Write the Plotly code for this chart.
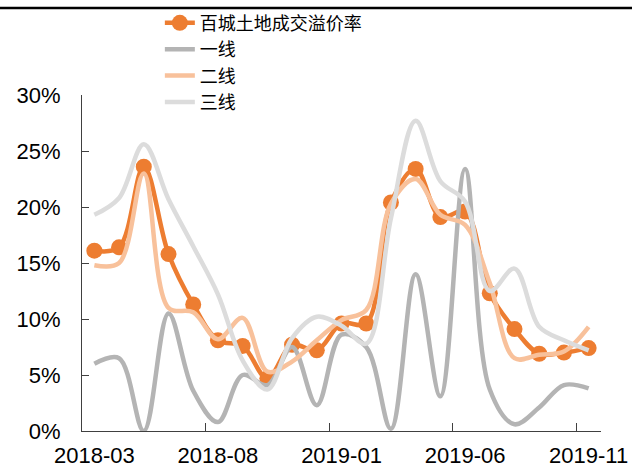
import plotly.graph_objects as go

# Monthly land-transaction premium rates (%), 2018-03 .. 2019-11
months = ["2018-03", "2018-04", "2018-05", "2018-06", "2018-07", "2018-08", "2018-09",
          "2018-10", "2018-11", "2018-12", "2019-01", "2019-02", "2019-03", "2019-04",
          "2019-05", "2019-06", "2019-07", "2019-08", "2019-09", "2019-10", "2019-11"]

hundred_city = [16.1, 16.4, 23.6, 15.8, 11.3, 8.1, 7.6, 4.7, 7.7, 7.2, 9.6,
                9.6, 20.4, 23.4, 19.1, 19.6, 12.3, 9.1, 6.9, 7.0, 7.4]
tier1 = [6.0, 6.5, 0.0, 10.5, 3.6, 0.8, 5.0, 4.1, 7.5, 2.3, 8.6,
         7.5, 0.2, 14.0, 3.1, 23.4, 3.7, 0.6, 2.1, 4.1, 3.8]
tier2 = [14.8, 15.0, 23.0, 11.0, 10.6, 8.2, 10.1, 5.3, 6.2, 8.1, 9.9,
         10.8, 20.3, 22.5, 19.3, 18.4, 13.2, 6.5, 6.8, 7.1, 9.3]
tier3 = [19.3, 20.8, 25.6, 20.7, 16.5, 12.2, 6.3, 3.7, 8.3, 10.2, 9.4,
         7.8, 19.0, 27.7, 22.3, 20.5, 12.5, 14.5, 9.3, 8.1, 7.2]

label_months = ["2018-03", "2018-08", "2019-01", "2019-06", "2019-11"]

series = [
    ("百城土地成交溢价率", hundred_city, "#ED7D31", True),
    ("一线", tier1, "#B4B4B4", False),
    ("二线", tier2, "#F8C19B", False),
    ("三线", tier3, "#DCDCDC", False),
]

fig = go.Figure()
for name, vals, color, with_markers in series:
    fig.add_trace(go.Scatter(
        x=months,
        y=[v / 100 for v in vals],
        name=name,
        mode="lines+markers" if with_markers else "lines",
        line=dict(color=color, width=4.5, shape="spline", smoothing=1.0),
        marker=dict(size=16, color=color) if with_markers else None,
    ))

axis_font = dict(family="Liberation Sans, Arial, sans-serif", size=22, color="#000000")

fig.update_layout(
    width=632,
    height=468,
    margin=dict(l=82, r=31, t=95, b=37, autoexpand=False),
    paper_bgcolor="white",
    plot_bgcolor="white",
    showlegend=True,
    legend=dict(
        x=0.15, xanchor="left",
        y=1.269, yanchor="top",
        font=dict(family="Noto Sans CJK SC", size=18, color="#000000"),
        bgcolor="rgba(0,0,0,0)",
        tracegroupgap=0,
        itemwidth=30,
    ),
    xaxis=dict(
        type="category",
        range=[-0.5, len(months) - 0.5],
        tickmode="array",
        tickvals=label_months,
        ticktext=label_months,
        tickson="boundaries",
        tickangle=0,
        ticks="inside",
        ticklen=8,
        tickcolor="#404040",
        showline=True,
        linecolor="#404040",
        linewidth=1,
        showgrid=False,
        zeroline=False,
        tickfont=axis_font,
        ticklabelstandoff=5,
        automargin=False,
    ),
    yaxis=dict(
        range=[0, 0.30],
        tickmode="linear",
        tick0=0,
        dtick=0.05,
        tickformat=".0%",
        ticks="inside",
        ticklen=7,
        tickcolor="#404040",
        showline=True,
        linecolor="#404040",
        linewidth=1,
        showgrid=False,
        zeroline=False,
        tickfont=axis_font,
        ticklabelstandoff=16,
        automargin=False,
    ),
    # page rule across the top of the figure
    shapes=[
        dict(type="rect", xref="paper", yref="paper",
             x0=-0.16, x1=1.06, y0=1.255, y1=1.263,
             fillcolor="#000000", line=dict(width=0), layer="above"),
    ],
)

fig.write_html("out.html")
